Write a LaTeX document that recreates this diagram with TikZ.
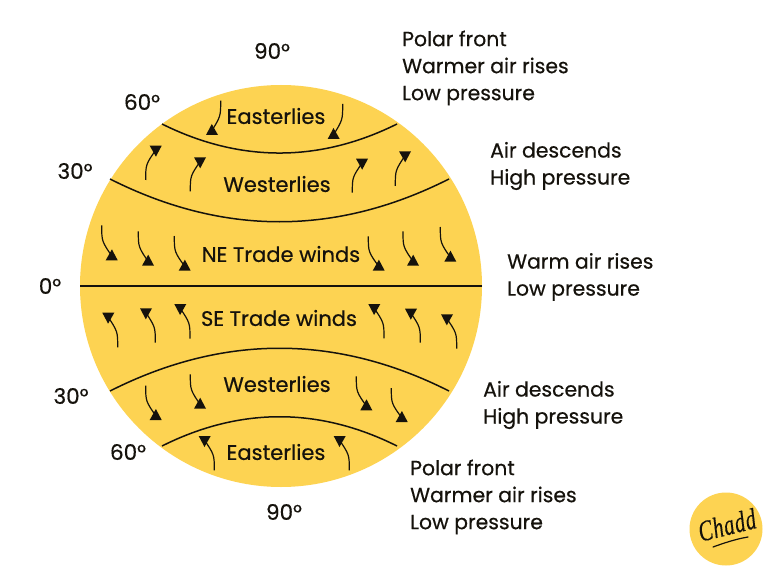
\documentclass[tikz,border=0pt]{standalone}
\usepackage{fontspec}
\setmainfont{Poppins}[FakeBold=0.45]
\newfontfamily\logofont{Liberation Serif}[UprightFont=* Italic,FakeBold=0.3,LetterSpace=3]
\definecolor{sun}{HTML}{FDD352}
\definecolor{ink}{HTML}{15120C}
\newcommand{\wind}[4]{%
  \pgfmathsetmacro{\hs}{(#3>#1)?1:-1}%
  \pgfmathsetmacro{\vs}{(#4>#2)?1:-1}%
  \pgfmathsetmacro{\ex}{#3-\hs*5}%
  \pgfmathsetmacro{\ey}{#4-\vs*3}%
  \pgfmathsetmacro{\cy}{#2+0.5*(\ey-#2)}%
  \draw[windline] (#1,#2) .. controls (#1,\cy) .. (\ex,\ey);
  \fill[ink] (#3,#4) -- ({#3-\hs*12},#4) -- ({#3-\hs*5.8},{#4-\vs*11}) -- cycle;
}
\begin{document}
\begin{tikzpicture}[x=1pt,y=-1pt,
  belt/.style={draw=ink,line width=1.5pt},
  windline/.style={draw=ink,line width=1.2pt},
  zone/.style={font=\fontsize{21}{24}\selectfont,text=ink,inner sep=0pt},
  lat/.style={font=\fontsize{21.5}{24}\selectfont,text=ink,inner sep=0pt},
  note/.style={font=\fontsize{20.4}{27}\selectfont,text=ink,align=left,anchor=west,inner sep=0pt}]
\useasboundingbox (0,0) rectangle (768,572);
\fill[white] (0,0) rectangle (768,572);
\fill[sun] (281,286) circle[radius=201];
\draw[belt] (162,124) .. controls (240,162.7) and (319,162.7) .. (397,124);
\draw[belt] (110,179) .. controls (223,236) and (336,236) .. (449,179);
\draw[belt,line width=2pt] (80,286) -- (482,286);
\draw[belt] (110,391) .. controls (223,334) and (336,334) .. (449,391);
\draw[belt] (162,446) .. controls (240,407) and (319,407) .. (397,446);
% upper easterlies
\wind{220.7}{100.7}{206}{135}
\wind{342.7}{104}{327.7}{139}
% upper westerlies
\wind{145.7}{180}{161.7}{145.7}
\wind{190.3}{191.3}{206}{157.3}
\wind{352.3}{192.7}{368}{158.7}
\wind{395.3}{186}{411}{151.3}
% NE trades
\wind{101.7}{225.3}{117.7}{260.3}
\wind{138.3}{231.3}{154}{265.7}
\wind{174.3}{236}{190.7}{270.7}
\wind{368.3}{236.3}{384.7}{270.7}
\wind{403}{231.3}{419}{265.7}
\wind{440.3}{227}{456.3}{261.7}
% SE trades
\wind{117.7}{347.3}{102.3}{312.7}
\wind{155.3}{342.7}{140}{308.3}
\wind{190}{338.7}{174.3}{304}
\wind{384}{338.3}{368.3}{304}
\wind{420.3}{342.7}{405}{308.7}
\wind{456.7}{348.7}{441}{314.3}
% lower westerlies
\wind{145.7}{385.7}{161.7}{420}
\wind{190.3}{374.3}{206}{408.7}
\wind{356.3}{376.3}{372.3}{410.3}
\wind{391.3}{388}{407.7}{422}
% lower easterlies
\wind{214.3}{470.3}{198.7}{436}
\wind{349.3}{470.3}{333.7}{436}
% zone labels
\node[zone] (z1) at (276,116) {Easterlies};
\node[zone] (z2) at (277,184) {Westerlies};
\node[zone] (z3) at (281,254) {NE Trade winds};
\node[zone] (z4) at (279,318) {SE Trade winds};
\node[zone] (z5) at (277,384) {Westerlies};
\node[zone] (z6) at (276,452) {Easterlies};
% latitudes
\node[lat] (l1) at (272,51) {90°};
\node[lat] (l2) at (142,102) {60°};
\node[lat] (l3) at (75,171) {30°};
\node[lat] (l4) at (50,286) {0°};
\node[lat] (l5) at (71,396) {30°};
\node[lat] (l6) at (128,452) {60°};
\node[lat] (l7) at (284,512) {90°};
% notes
\node[note] (n1) at (402,68) {Polar front\\Warmer air rises\\Low pressure};
\node[note] (n2) at (490,166) {Air descends\\High pressure};
\node[note] (n3) at (507,277) {Warm air rises\\Low pressure};
\node[note] (n4) at (483,405) {Air descends\\High pressure};
\node[note] (n5) at (410,497) {Polar front\\Warmer air rises\\Low pressure};
% badge
\fill[sun] (726,529) circle[radius=36.5];
\node[inner sep=0pt,text=ink,font=\logofont\fontsize{21}{21}\selectfont,rotate=14,yscale=1.4] (logo) at (727,525) {Chadd};
\draw[ink,line width=1.2pt,line cap=round] (713,547) .. controls (724,543) and (736,539) .. (748,537);
\end{tikzpicture}
\end{document}
